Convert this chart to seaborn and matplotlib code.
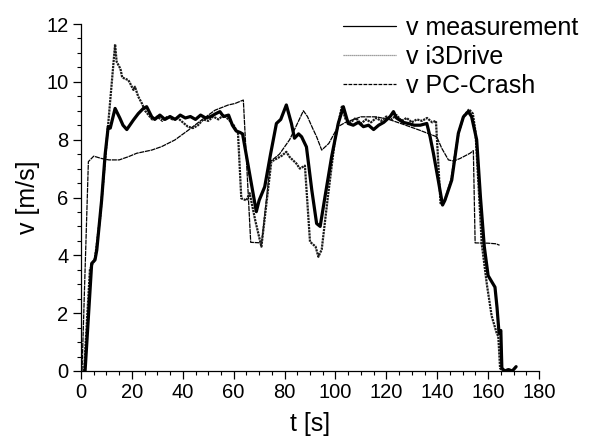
import matplotlib
matplotlib.use("Agg")
import matplotlib.pyplot as plt
import seaborn as sns
import pandas as pd

# ---- data ----
t_meas = [1.6, 4.2, 5.5, 6.2, 8.1, 9.5, 10.7, 11.5, 13.4, 15.3, 16.5, 18.0, 20.6, 22.5, 24.5, 25.8,
          27.8, 29, 31, 33, 35, 37, 39, 41, 43, 45, 47, 49, 51, 53, 54.6, 56, 58, 59.5, 61, 62.5,
          63.5, 68.9, 70, 72.2, 74.5, 76.8, 78.5, 80.7, 82.7, 83.9, 85.5, 86.7, 88.6, 90.7, 92.6,
          94, 95.9, 98.5, 101.1, 103.1, 105, 107, 109, 111, 113, 115, 117, 119, 121.5, 122.8, 124,
          126.6, 129, 131, 133.3, 135.9, 137.2, 138.5, 140.4, 142.1, 143, 145.7, 148.3, 150.3,
          152.2, 153.5, 155.5, 157, 158.5, 160, 161, 162.7, 163.5, 164.3, 165, 165.4, 166.5, 168,
          169.5, 171]
v_meas = [0.0, 3.72, 3.84, 4.18, 5.9, 7.5, 8.45, 8.4, 9.08, 8.74, 8.5, 8.35, 8.68, 8.9, 9.08, 9.14,
          8.79, 8.7, 8.85, 8.7, 8.8, 8.7, 8.85, 8.75, 8.8, 8.7, 8.85, 8.75, 8.8, 8.9, 8.97, 8.8, 8.85,
          8.5, 8.3, 8.25, 8.2, 5.51, 5.9, 6.37, 7.5, 8.56, 8.7, 9.2, 8.56, 8.05, 8.2, 8.1, 7.75, 6.26,
          5.1, 5.0, 6.03, 7.41, 8.56, 9.14, 8.56, 8.5, 8.6, 8.45, 8.5, 8.35, 8.5, 8.6, 8.8, 8.97,
          8.75, 8.6, 8.55, 8.5, 8.5, 8.56, 8.1, 7.53, 6.6, 5.74, 5.9, 6.6, 8.22, 8.79, 8.97, 8.8,
          8.0, 6.0, 4.3, 3.3, 3.15, 2.9, 2.2, 1.3, 1.4, 0.1, 0.0, 0.05, 0.0, 0.15]

t_i3d = [1.2, 3.5, 5.5, 7.5, 13.4, 14.0, 14.7, 15.5, 16.2, 18.6, 19.3, 20.6, 21.2, 22.5, 23.9, 25.2,
         27.1, 28, 30, 32, 34, 36, 38, 40, 42, 44, 46, 48, 50, 52, 54, 56, 58, 60, 61.7, 63, 65,
         66.3, 68.5, 70.9, 74.8, 77, 79, 80.7, 82, 84.6, 86, 88, 90, 92.2, 93.3, 94.6, 97, 99.8,
         102.5, 104, 106, 108, 110, 112, 114, 116, 118, 120, 122, 124, 126, 128, 130, 132, 134,
         136, 138, 139.5, 141.3, 143, 145.5, 148.3, 150.3, 152.5, 154, 155, 156.5, 157.5, 159.5,
         161.4, 163.4, 164, 164.7, 165.5]
v_i3d = [0.0, 3.5, 3.9, 5.3, 11.3, 10.7, 10.58, 10.45, 10.15, 10.06, 9.95, 9.72, 9.83, 9.49, 9.26,
         9.0, 8.79, 8.7, 8.8, 8.65, 8.8, 8.7, 8.75, 8.6, 8.45, 8.4, 8.5, 8.7, 8.65, 8.8, 8.7, 8.85,
         8.7, 8.5, 8.22, 5.97, 5.9, 6.15, 5.2, 4.3, 7.24, 7.35, 7.45, 7.58, 7.4, 7.18, 7.0, 7.1,
         4.47, 4.3, 3.95, 4.2, 6.0, 8.0, 9.14, 8.7, 8.6, 8.75, 8.55, 8.7, 8.6, 8.75, 8.65, 8.8,
         8.7, 8.85, 8.65, 8.75, 8.6, 8.7, 8.65, 8.75, 8.6, 8.65, 5.8, 5.9, 6.6, 8.2, 8.8, 9.05,
         8.9, 8.3, 6.0, 4.4, 3.0, 1.9, 1.3, 1.2, 0.1, 0.0]

t_pcc = [0.4, 2.9, 5.0, 8.0, 11.0, 15.0, 18.6, 21.9, 27.8, 31.7, 36.9, 42.2, 47.4, 52.7, 57.9,
         60.5, 63.8, 66.7, 71.0, 74.5, 78.0, 82.0, 85.0, 87.4, 89.0, 91.0, 92.6, 94.6, 97.4, 101.0,
         104.0, 110.0, 116.0, 121.0, 126.0, 133.0, 139.8, 141.8, 144.4, 146.4, 149.0, 152.9,
         154.2, 154.9, 160.0, 163.0, 164.5]
v_pcc = [0.0, 7.24, 7.43, 7.35, 7.3, 7.3, 7.41, 7.53, 7.64, 7.76, 7.99, 8.33, 8.68, 9.02, 9.2,
         9.25, 9.37, 4.45, 4.43, 7.25, 7.5, 8.0, 8.55, 9.0, 8.8, 8.4, 8.1, 7.64, 7.87, 8.45, 8.6,
         8.79, 8.79, 8.7, 8.55, 8.33, 8.1, 7.7, 7.3, 7.26, 7.35, 7.53, 7.62, 4.43, 4.42, 4.4, 4.35]

labels = ["v measurement", "v i3Drive", "v PC-Crash"]
x_ticks = [0, 20, 40, 60, 80, 100, 120, 140, 160, 180]
y_ticks = [0, 2, 4, 6, 8, 10, 12]

# ---- style ----
sns.set_style("ticks")
plt.rcParams["font.family"] = ["Liberation Sans", "DejaVu Sans"]
plt.rcParams["text.color"] = "black"
plt.rcParams["axes.labelcolor"] = "black"
plt.rcParams["xtick.color"] = "black"
plt.rcParams["ytick.color"] = "black"

fig = plt.figure(figsize=(5.91, 4.38), dpi=100)
ax = fig.add_axes([81 / 591, 1 - 371 / 438, (539 - 81) / 591, (371 - 24) / 438])

df_m = pd.DataFrame({"t": t_meas, "v": v_meas})
df_i = pd.DataFrame({"t": t_i3d, "v": v_i3d})
df_p = pd.DataFrame({"t": t_pcc, "v": v_pcc})

sns.lineplot(data=df_p, x="t", y="v", ax=ax, estimator=None, sort=False, color="black",
             linewidth=0.9, linestyle=(0, (4, 0.6)), label=labels[2], zorder=2)
sns.lineplot(data=df_i, x="t", y="v", ax=ax, estimator=None, sort=False, color="#1a1a1a",
             linewidth=1.6, linestyle=(0, (1, 0.4)), label=labels[1], zorder=3)
sns.lineplot(data=df_m, x="t", y="v", ax=ax, estimator=None, sort=False, color="black",
             linewidth=2.3, linestyle="-", label=labels[0], zorder=4)

ax.set_xlim(0, 180)
ax.set_ylim(0, 12)
ax.set_xticks(x_ticks)
ax.set_yticks(y_ticks)
ax.set_xticks([x for x in range(0, 181, 5)], minor=True)
ax.set_yticks([y * 0.5 for y in range(0, 25)], minor=True)
ax.tick_params(axis="both", which="major", direction="out", length=6, width=0.9,
               labelsize=14.5, color="black", labelcolor="black", pad=3)
ax.tick_params(axis="both", which="minor", direction="out", length=3, width=0.8, color="black")
for s in ["top", "right"]:
    ax.spines[s].set_visible(False)
for s in ["left", "bottom"]:
    ax.spines[s].set_color("black")
    ax.spines[s].set_linewidth(0.9)

ax.set_xlabel("t [s]", fontsize=18, color="black")
ax.set_ylabel("v [m/s]", fontsize=18, color="black")
ax.xaxis.set_label_coords(0.5, -0.118)
ax.yaxis.set_label_coords(-0.09, 0.5)

# legend in order measurement, i3Drive, PC-Crash
handles, labs = ax.get_legend_handles_labels()
order = [labs.index(l) for l in labels]
leg = fig.legend([handles[i] for i in order], [labs[i] for i in order],
                 loc="upper right", bbox_to_anchor=(578 / 591, 1 - 16 / 438),
                 frameon=False, fontsize=18, handlelength=2.1, handletextpad=0.4,
                 labelspacing=0.2, borderpad=0, borderaxespad=0, labelcolor="black")
styles = ["-", (0, (1, 0.6)), (0, (3, 1))]
cols = ["black", "#808080", "black"]
for line, st, c in zip(leg.get_lines(), styles, cols):
    line.set_linewidth(0.9)
    line.set_linestyle(st)
    line.set_color(c)
if ax.legend_:
    ax.legend_.remove()

fig.savefig("out.png", dpi=100)
